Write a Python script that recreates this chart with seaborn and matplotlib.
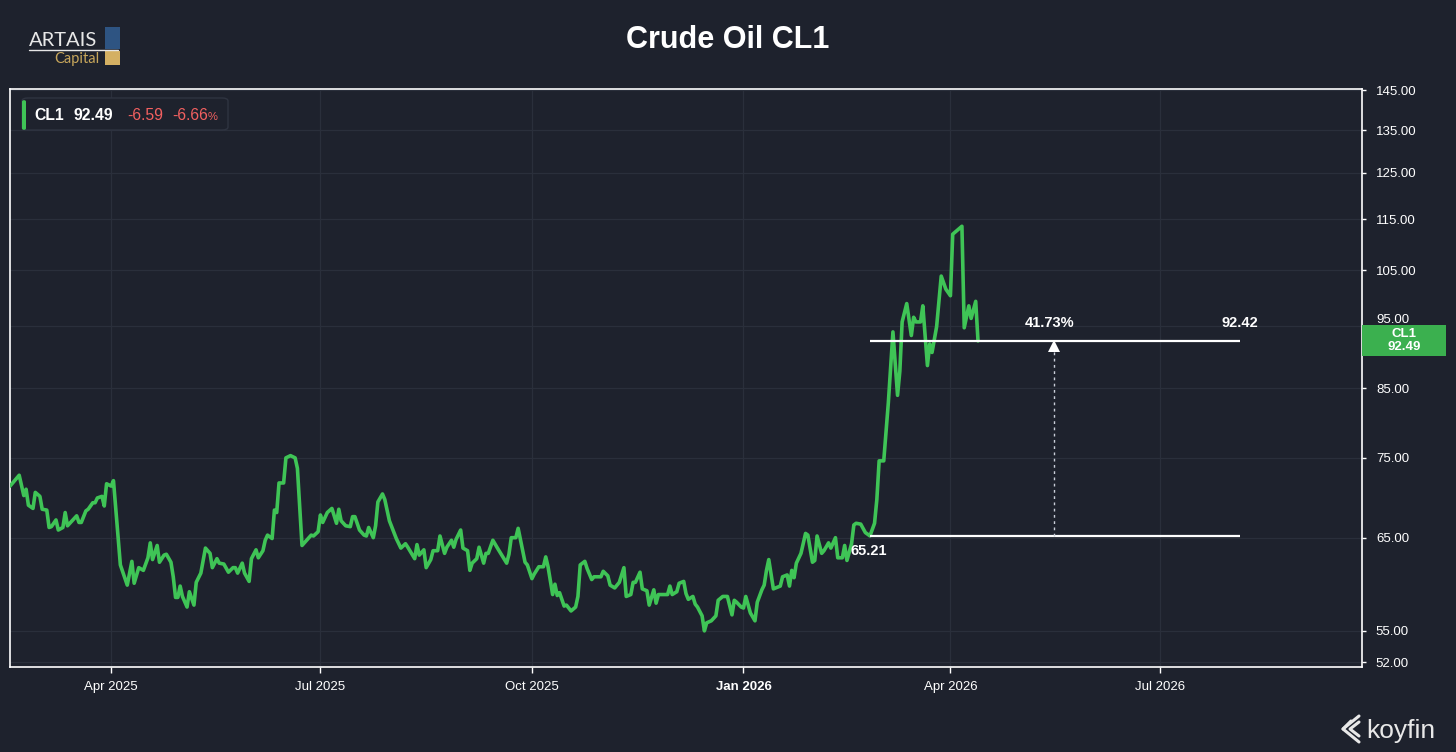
import matplotlib
matplotlib.use("Agg")
import matplotlib.pyplot as plt
import pandas as pd
import seaborn as sns
from matplotlib.patches import FancyBboxPatch, Rectangle
from matplotlib.lines import Line2D

# ---------------------------
# Data
# ---------------------------
dates = [
    "2025-02-16", "2025-02-20", "2025-02-22", "2025-02-23", "2025-02-24", "2025-02-26", "2025-02-27",
    "2025-03-01", "2025-03-02", "2025-03-04", "2025-03-05", "2025-03-06", "2025-03-08", "2025-03-09",
    "2025-03-11", "2025-03-12", "2025-03-13", "2025-03-15", "2025-03-17", "2025-03-18", "2025-03-19",
    "2025-03-21", "2025-03-22", "2025-03-24", "2025-03-25", "2025-03-26", "2025-03-28", "2025-03-29",
    "2025-03-30", "2025-04-01", "2025-04-02", "2025-04-05", "2025-04-08", "2025-04-10", "2025-04-11",
    "2025-04-13", "2025-04-15", "2025-04-17", "2025-04-18", "2025-04-19", "2025-04-21", "2025-04-22",
    "2025-04-24", "2025-04-25", "2025-04-27", "2025-04-28", "2025-04-29", "2025-04-30", "2025-05-01",
    "2025-05-02", "2025-05-04", "2025-05-05", "2025-05-07", "2025-05-08", "2025-05-10", "2025-05-12",
    "2025-05-14", "2025-05-15", "2025-05-17", "2025-05-18", "2025-05-20", "2025-05-22", "2025-05-24",
    "2025-05-25", "2025-05-26", "2025-05-28", "2025-05-29", "2025-05-31", "2025-06-01", "2025-06-03",
    "2025-06-04", "2025-06-06", "2025-06-07", "2025-06-08", "2025-06-10", "2025-06-11", "2025-06-12",
    "2025-06-13", "2025-06-15", "2025-06-16", "2025-06-18", "2025-06-20", "2025-06-21", "2025-06-23",
    "2025-06-25", "2025-06-27", "2025-06-28", "2025-06-30", "2025-07-01", "2025-07-02", "2025-07-04",
    "2025-07-06", "2025-07-08", "2025-07-09", "2025-07-10", "2025-07-12", "2025-07-14", "2025-07-15",
    "2025-07-16", "2025-07-18", "2025-07-20", "2025-07-21", "2025-07-22", "2025-07-24", "2025-07-25",
    "2025-07-26", "2025-07-28", "2025-07-29", "2025-07-31", "2025-08-03", "2025-08-05", "2025-08-07",
    "2025-08-08", "2025-08-11", "2025-08-12", "2025-08-13", "2025-08-15", "2025-08-16", "2025-08-18",
    "2025-08-19", "2025-08-21", "2025-08-22", "2025-08-24", "2025-08-25", "2025-08-27", "2025-08-28",
    "2025-08-29", "2025-08-31", "2025-09-01", "2025-09-03", "2025-09-04", "2025-09-05", "2025-09-07",
    "2025-09-08", "2025-09-10", "2025-09-11", "2025-09-12", "2025-09-14", "2025-09-16", "2025-09-20",
    "2025-09-21", "2025-09-22", "2025-09-24", "2025-09-25", "2025-09-27", "2025-09-28", "2025-09-29",
    "2025-10-01", "2025-10-02", "2025-10-04", "2025-10-06", "2025-10-07", "2025-10-08", "2025-10-10",
    "2025-10-11", "2025-10-12", "2025-10-13", "2025-10-15", "2025-10-16", "2025-10-18", "2025-10-20",
    "2025-10-21", "2025-10-22", "2025-10-24", "2025-10-25", "2025-10-27", "2025-10-28", "2025-10-31",
    "2025-11-01", "2025-11-03", "2025-11-04", "2025-11-06", "2025-11-08", "2025-11-10", "2025-11-11",
    "2025-11-13", "2025-11-14", "2025-11-15", "2025-11-17", "2025-11-18", "2025-11-20", "2025-11-21",
    "2025-11-23", "2025-11-24", "2025-11-25", "2025-11-27", "2025-11-29", "2025-11-30", "2025-12-01",
    "2025-12-03", "2025-12-04", "2025-12-06", "2025-12-07", "2025-12-08", "2025-12-10", "2025-12-11",
    "2025-12-12", "2025-12-14", "2025-12-15", "2025-12-16", "2025-12-18", "2025-12-20", "2025-12-21",
    "2025-12-23", "2025-12-25", "2025-12-27", "2025-12-28", "2025-12-29", "2025-12-31", "2026-01-01",
    "2026-01-02", "2026-01-04", "2026-01-06", "2026-01-07", "2026-01-09", "2026-01-10", "2026-01-11",
    "2026-01-12", "2026-01-14", "2026-01-17", "2026-01-18", "2026-01-20", "2026-01-21", "2026-01-22",
    "2026-01-23", "2026-01-24", "2026-01-26", "2026-01-28", "2026-01-29", "2026-01-31", "2026-02-01",
    "2026-02-02", "2026-02-04", "2026-02-05", "2026-02-07", "2026-02-08", "2026-02-10", "2026-02-11",
    "2026-02-13", "2026-02-14", "2026-02-15", "2026-02-17", "2026-02-18", "2026-02-19", "2026-02-21",
    "2026-02-23", "2026-02-25", "2026-02-27", "2026-02-28", "2026-03-01", "2026-03-03", "2026-03-05",
    "2026-03-07", "2026-03-09", "2026-03-10", "2026-03-11", "2026-03-13", "2026-03-15", "2026-03-16",
    "2026-03-17", "2026-03-19", "2026-03-20", "2026-03-22", "2026-03-23", "2026-03-24", "2026-03-26",
    "2026-03-28", "2026-03-30", "2026-04-01", "2026-04-02", "2026-04-06", "2026-04-07", "2026-04-09",
    "2026-04-10", "2026-04-12", "2026-04-13",
]

prices = [
    71.3, 72.7, 70.1, 70.9, 68.9, 68.5, 70.5,
    70.0, 68.4, 68.3, 66.2, 66.3, 67.1, 65.9,
    66.2, 68.0, 66.4, 67.0, 67.6, 66.8, 66.8,
    68.2, 68.4, 69.2, 69.2, 69.8, 70.0, 68.8,
    71.6, 71.3, 72.0, 61.9, 59.7, 62.3, 59.9,
    61.6, 61.3, 62.7, 64.4, 62.5, 64.1, 62.2,
    63.0, 63.1, 62.2, 60.6, 58.4, 58.4, 59.6,
    58.5, 57.4, 59.0, 57.6, 60.0, 61.0, 63.8,
    63.2, 61.6, 62.6, 62.1, 62.0, 61.1, 61.6,
    61.6, 61.0, 62.1, 61.0, 60.1, 62.6, 63.6,
    62.7, 63.5, 64.7, 65.3, 64.9, 68.3, 68.0,
    71.7, 71.7, 75.0, 75.3, 75.0, 73.6, 64.1,
    64.7, 65.3, 65.2, 65.7, 67.7, 66.8, 68.0,
    68.5, 66.7, 68.4, 67.0, 66.4, 66.3, 67.5,
    67.5, 65.9, 65.3, 65.2, 66.2, 65.0, 66.4,
    69.3, 70.3, 69.6, 67.0, 64.9, 63.8, 64.3,
    63.9, 62.6, 64.2, 63.0, 63.6, 61.6, 62.5,
    63.5, 63.5, 65.2, 63.2, 63.9, 64.7, 63.9,
    64.8, 65.9, 63.8, 63.5, 61.3, 62.1, 62.6,
    63.9, 62.1, 63.2, 63.2, 64.7, 63.8, 62.1,
    63.1, 65.0, 65.0, 66.1, 63.5, 62.2, 61.9,
    60.4, 60.9, 61.7, 61.7, 62.8, 61.7, 58.7,
    59.8, 58.6, 58.9, 57.5, 57.6, 57.0, 57.4,
    58.5, 61.9, 62.3, 61.5, 60.3, 60.6, 60.6,
    61.2, 60.7, 59.7, 59.4, 60.0, 61.6, 58.5,
    58.7, 60.0, 60.0, 61.1, 59.3, 59.1, 57.6,
    59.2, 57.8, 58.7, 58.7, 58.7, 59.6, 58.7,
    59.0, 59.9, 60.1, 58.8, 58.2, 58.5, 57.7,
    57.4, 56.5, 55.0, 55.8, 56.0, 56.5, 58.1,
    58.5, 58.5, 56.6, 58.1, 57.9, 57.4, 57.3,
    58.5, 56.8, 56.0, 57.9, 59.2, 59.7, 61.3,
    62.5, 59.3, 59.6, 60.6, 60.8, 59.6, 61.3,
    60.5, 62.1, 63.2, 65.5, 65.3, 62.2, 62.4,
    65.2, 63.2, 63.5, 64.4, 63.8, 65.0, 62.7,
    62.7, 64.1, 62.4, 64.3, 66.5, 66.7, 66.6,
    65.6, 65.21, 66.7, 69.6, 74.6, 74.6, 82.8,
    94.0, 83.9, 87.6, 95.7, 98.9, 93.4, 96.5,
    95.7, 95.7, 98.5, 88.5, 92.0, 90.6, 94.9,
    103.9, 101.5, 100.3, 112.0, 113.6, 94.7, 98.5,
    96.3, 99.3, 92.49,
]

y_ticks = [52, 55, 65, 75, 85, 95, 105, 115, 125, 135, 145]
x_tick_dates = ["2025-04-01", "2025-07-01", "2025-10-01", "2026-01-01", "2026-04-01", "2026-07-01"]
x_tick_labels = ["Apr 2025", "Jul 2025", "Oct 2025", "Jan 2026", "Apr 2026", "Jul 2026"]

# measurement tool: low -> high
measure_low = 65.21
measure_high = 92.42
measure_start = "2026-02-25"
measure_end = "2026-08-05"
measure_arrow = "2026-05-16"

last_price = 92.49
change_abs = -6.59
change_pct = -6.66

# ---------------------------
# Colours
# ---------------------------
BG = "#1e222d"
GRID = "#2a2f3b"
LINE_GREEN = "#3fc456"
TAG_GREEN = "#3bb04f"
RED = "#f26060"
W = 1456
H = 752


def px(x, y):
    """pixel position (from top-left) -> figure fraction"""
    return x / W, 1 - y / H


sns.set_theme(style="dark")
plt.rcParams["font.family"] = ["Liberation Sans", "DejaVu Sans"]

fig = plt.figure(figsize=(W / 100, H / 100), dpi=100, facecolor=BG)
ax = fig.add_axes([10 / W, 1 - 667 / H, (1362 - 10) / W, (667 - 89) / H])
ax.set_facecolor(BG)

df = pd.DataFrame({"date": pd.to_datetime(dates), "price": prices})
sns.lineplot(data=df, x="date", y="price", ax=ax, color=LINE_GREEN, linewidth=2.6, zorder=3)

ax.set_yscale("log")
ax.set_ylim(51.55, 145.3)
ax.set_xlim(pd.Timestamp("2025-02-16"), pd.Timestamp("2026-09-27"))

ax.yaxis.tick_right()
ax.set_yticks(y_ticks)
ax.set_yticklabels([f"{v:.2f}" for v in y_ticks])
ax.yaxis.set_minor_locator(plt.NullLocator())
ax.set_xticks(pd.to_datetime(x_tick_dates))
ax.set_xticklabels(x_tick_labels)
for lbl in ax.get_xticklabels():
    if lbl.get_text() == "Jan 2026":
        lbl.set_fontweight("bold")
        lbl.set_fontsize(11)

ax.tick_params(axis="y", which="both", colors="white", labelcolor="white", labelsize=9.5,
               length=3, width=1, pad=7, right=True, left=False)
ax.tick_params(axis="x", colors="white", labelcolor="white", labelsize=9.5,
               length=4, width=1, pad=6, bottom=True)
ax.grid(True, color=GRID, linewidth=0.9)
ax.set_xlabel("")
ax.set_ylabel("")
for sp in ax.spines.values():
    sp.set_color("white")
    sp.set_linewidth(1.2)

# the 95.00 label sits right above the price tag
for lbl in ax.get_yticklabels():
    if lbl.get_text() == "95.00":
        lbl.set_va("bottom")

# ---------------------------
# Measurement lines
# ---------------------------
m0 = pd.Timestamp(measure_start)
m1 = pd.Timestamp(measure_end)
ma = pd.Timestamp(measure_arrow)
ax.hlines([measure_low, measure_high], m0, m1, color="white", linewidth=1.6, zorder=4)
ax.plot([ma, ma], [measure_low, measure_high * 0.985], color="#c9ced8", linewidth=1,
        linestyle=(0, (2, 2.5)), zorder=4)
ax.plot([ma], [measure_high * 0.991], marker="^", markersize=8, color="white",
        markeredgewidth=0, zorder=5)

pct = (measure_high / measure_low - 1) * 100
ax.annotate(f"{pct:.2f}%", xy=(ma, measure_high), xytext=(-3, 13), textcoords="offset points",
            ha="center", va="center", color="white", fontsize=10.5, fontweight="bold")
ax.annotate(f"{measure_high:.2f}", xy=(m1, measure_high), xytext=(0, 13), textcoords="offset points",
            ha="center", va="center", color="white", fontsize=10.5, fontweight="bold")
ax.annotate(f"{measure_low:.2f}", xy=(m0, measure_low), xytext=(-1, -11), textcoords="offset points",
            ha="center", va="center", color="white", fontsize=10.5, fontweight="bold")

# ---------------------------
# Price tag on the right axis
# ---------------------------
tx, ty = px(1362, 356)
fig.patches.append(Rectangle((tx, ty), 84 / W, 31 / H, transform=fig.transFigure,
                             facecolor=TAG_GREEN, edgecolor="none", zorder=5))
fig.text(*px(1404, 334), "CL1", ha="center", va="center", color="white",
         fontsize=9.5, fontweight="bold", zorder=6)
fig.text(*px(1404, 347), f"{last_price:.2f}", ha="center", va="center", color="white",
         fontsize=9.5, fontweight="bold", zorder=6)

# ---------------------------
# Legend box (top-left)
# ---------------------------
lx, ly = px(22, 130)
fig.patches.append(FancyBboxPatch((lx, ly), 206 / W, 32 / H, transform=fig.transFigure,
                                  boxstyle="round,pad=0,rounding_size=0.004",
                                  facecolor=BG, edgecolor="#2f3441", linewidth=1, zorder=5))
gx, gy = px(22, 130)
fig.patches.append(FancyBboxPatch((gx, gy), 4 / W, 30 / H, transform=fig.transFigure,
                                  boxstyle="round,pad=0,rounding_size=0.002",
                                  facecolor=LINE_GREEN, edgecolor="none", zorder=6))
fig.text(*px(34, 115), "CL1", ha="left", va="center", color="white", fontsize=11.3,
         fontweight="bold", zorder=6)
fig.text(*px(74, 115), f"{last_price:.2f}", ha="left", va="center", color="white", fontsize=11.3,
         fontweight="bold", zorder=6)
fig.text(*px(127, 115), f"{change_abs:.2f}", ha="left", va="center", color=RED, fontsize=11.3,
         zorder=6)
fig.text(*px(172, 115), f"{change_pct:.2f}", ha="left", va="center", color=RED, fontsize=11.3,
         zorder=6)
fig.text(*px(208, 117), "%", ha="left", va="center", color=RED, fontsize=8, zorder=6)

# ---------------------------
# Title and logos
# ---------------------------
fig.text(0.5, 1 - 40 / H, "Crude Oil CL1", ha="center", va="center", color="white",
         fontsize=22, fontweight="bold")

fig.text(*px(29, 40), "ARTAIS", ha="left", va="center", color="#e8e8e8", fontsize=14.5,
         family="Lato")
fig.lines.append(Line2D([29 / W, 118 / W], [1 - 50 / H, 1 - 50 / H], transform=fig.transFigure,
                        color="#e6e6e6", linewidth=1))
fig.text(*px(54, 59), "Capital", ha="left", va="center", color="#c7a65b", fontsize=10.5,
         family="Lato")
fig.patches.append(Rectangle(px(105, 49), 15 / W, 22 / H, transform=fig.transFigure,
                             facecolor="#2e5482", edgecolor="none"))
fig.patches.append(Rectangle(px(105, 65), 15 / W, 14 / H, transform=fig.transFigure,
                             facecolor="#d4b063", edgecolor="none"))

fig.text(*px(1366, 731), "koyfin", ha="left", va="center", color="#e8e8e8", fontsize=19)
for pts in ([(1359, 716), (1343, 729), (1359, 742)],
            [(1359, 722), (1350, 729), (1359, 736)],
            [(1343, 729), (1351, 721)]):
    xs = [p[0] / W for p in pts]
    ys = [1 - p[1] / H for p in pts]
    fig.lines.append(Line2D(xs, ys, transform=fig.transFigure, color="#e8e8e8", linewidth=2.2))

fig.savefig("out.png", dpi=100, facecolor=BG)
